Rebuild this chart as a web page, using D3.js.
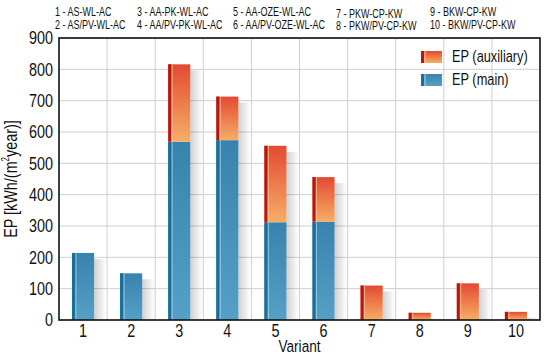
<!DOCTYPE html>
<html>
<head>
<meta charset="utf-8">
<script src="https://cdn.jsdelivr.net/npm/d3@7/dist/d3.min.js"></script>
<style>
	body { margin: 0; background: #fff; }
	svg { font-family: "Liberation Sans", Arial, sans-serif; }
	.grid line { stroke: #cfcfcf; stroke-width: 1; }
</style>
</head>
<body>
<div id="chart"></div>
<script>
// data
const variants = ['1', '2', '3', '4', '5', '6', '7', '8', '9', '10'];
const epMain = [214, 149, 569, 574, 312, 314, 0, 0, 0, 0];
const epAux = [0, 0, 247, 139, 244, 142, 110, 23, 117, 26];
const yTicks = [0, 100, 200, 300, 400, 500, 600, 700, 800, 900];
const legendTop = [
	['1 - AS-WL-AC', '2 - AS/PV-WL-AC'],
	['3 - AA-PK-WL-AC', '4 - AA/PV-PK-WL-AC'],
	['5 - AA-OZE-WL-AC', '6 - AA/PV-OZE-WL-AC'],
	['7 - PKW-CP-KW', '8 - PKW/PV-CP-KW'],
	['9 - BKW-CP-KW', '10 - BKW/PV-CP-KW']
];
const seriesNames = ['EP (auxiliary)', 'EP (main)'];

const W = 550, H = 358;
const m = { left: 59, right: 10, top: 38, bottom: 38 };
const NARROW = 0.8; // no narrow font installed, squeeze glyphs instead

const svg = d3.select('#chart').append('svg').attr('width', W).attr('height', H);
const defs = svg.append('defs');

function vGrad(id, top, bottom) {
	const g = defs.append('linearGradient').attr('id', id).attr('x1', 0).attr('y1', 0).attr('x2', 0).attr('y2', 1);
	g.append('stop').attr('offset', '0%').attr('stop-color', top);
	g.append('stop').attr('offset', '100%').attr('stop-color', bottom);
}
vGrad('gMain', '#3783ad', '#55a0c6');
vGrad('gAux', '#e34a32', '#f6ae66');
const sh = defs.append('linearGradient').attr('id', 'gShadow').attr('x1', 0).attr('y1', 0).attr('x2', 1).attr('y2', 0);
sh.append('stop').attr('offset', '0%').attr('stop-color', '#000').attr('stop-opacity', 0.18);
sh.append('stop').attr('offset', '100%').attr('stop-color', '#000').attr('stop-opacity', 0);

const x = d3.scaleBand().domain(variants).range([m.left, W - m.right]).padding(0);
const y = d3.scaleLinear().domain([0, 900]).range([H - m.bottom, m.top]);

// narrow text placed at (tx, ty)
function ntext(parent, tx, ty, str, size, anchor, sx) {
	return parent.append('text')
		.attr('transform', `translate(${tx},${ty}) scale(${sx || NARROW},1)`)
		.attr('text-anchor', anchor || 'start')
		.attr('font-size', size).attr('fill', '#111').text(str);
}

// grid
const grid = svg.append('g').attr('class', 'grid');
grid.selectAll('.h').data(yTicks).join('line')
	.attr('x1', m.left).attr('x2', W - m.right)
	.attr('y1', d => y(d)).attr('y2', d => y(d));
grid.selectAll('.v').data(variants.slice(1)).join('line')
	.attr('x1', d => x(d)).attr('x2', d => x(d))
	.attr('y1', m.top).attr('y2', H - m.bottom);

const bw = x.bandwidth() * 0.46;
const bx = d => x(d) + (x.bandwidth() - bw) / 2;

const rows = variants.map((v, i) => ({ v, main: epMain[i], aux: epAux[i] }));

// soft shadows right of the bars
svg.append('g').selectAll('rect').data(rows).join('rect')
	.attr('x', d => bx(d.v) + bw)
	.attr('y', d => y(d.main + d.aux) + 6)
	.attr('width', 12)
	.attr('height', d => Math.max(0, y(0) - y(d.main + d.aux) - 6))
	.attr('fill', 'url(#gShadow)');

function drawSeg(sel, lo, hi, fill, dark, light) {
	const g = sel.filter(d => hi(d) > lo(d));
	g.append('rect')
		.attr('x', d => bx(d.v)).attr('width', bw)
		.attr('y', d => y(hi(d))).attr('height', d => y(lo(d)) - y(hi(d)))
		.attr('fill', fill);
	g.append('rect')
		.attr('x', d => bx(d.v)).attr('width', 3)
		.attr('y', d => y(hi(d))).attr('height', d => y(lo(d)) - y(hi(d)))
		.attr('fill', dark);
	g.append('rect')
		.attr('x', d => bx(d.v) + 3.5).attr('width', 1)
		.attr('y', d => y(hi(d))).attr('height', d => y(lo(d)) - y(hi(d)))
		.attr('fill', light).attr('opacity', 0.8);
}

const bars = svg.append('g').selectAll('g').data(rows).join('g');
drawSeg(bars, d => 0, d => d.main, 'url(#gMain)', '#17709b', '#a9d2e6');
drawSeg(bars, d => d.main, d => d.main + d.aux, 'url(#gAux)', '#b8170f', '#f8c09a');

// frame
svg.append('rect')
	.attr('x', m.left).attr('y', m.top)
	.attr('width', W - m.right - m.left).attr('height', H - m.bottom - m.top)
	.attr('fill', 'none').attr('stroke', '#111').attr('stroke-width', 1.6);

// axes
const yAxis = svg.append('g').attr('transform', `translate(${m.left},0)`)
	.call(d3.axisLeft(y).tickValues(yTicks).tickSize(0).tickPadding(6));
const xAxis = svg.append('g').attr('transform', `translate(0,${H - m.bottom})`)
	.call(d3.axisBottom(x).tickSize(0).tickPadding(4));
[yAxis, xAxis].forEach(a => {
	a.select('.domain').remove();
	a.selectAll('text').attr('font-size', 18).attr('fill', '#111')
		.attr('font-family', '"Liberation Sans", Arial, sans-serif');
});
yAxis.selectAll('text').attr('transform', `scale(${NARROW},1)`).attr('x', -6 / NARROW);
xAxis.selectAll('text').attr('transform', `scale(${NARROW},1)`);

ntext(svg, (m.left + W - m.right) / 2, 352, 'Variant', 17, 'middle');

const yl = svg.append('text')
	.attr('transform', `translate(17,${(m.top + H - m.bottom) / 2}) rotate(-90) scale(${NARROW},1)`)
	.attr('text-anchor', 'middle').attr('font-size', 18).attr('fill', '#111');
yl.append('tspan').text('EP [kWh/(m');
yl.append('tspan').attr('font-size', 10).attr('dy', -8).text('2');
yl.append('tspan').attr('dy', 8).text('year)]');

// series legend
const leg = svg.append('g');
const legCols = [
	{ fill: 'url(#gAux)', dark: '#b8170f', light: '#f8c09a' },
	{ fill: 'url(#gMain)', dark: '#17709b', light: '#a9d2e6' }
];
seriesNames.forEach((name, i) => {
	const ly = 51 + i * 23;
	leg.append('rect').attr('x', 421).attr('y', ly).attr('width', 21).attr('height', 12).attr('fill', legCols[i].fill);
	leg.append('rect').attr('x', 421).attr('y', ly).attr('width', 3).attr('height', 12).attr('fill', legCols[i].dark);
	leg.append('rect').attr('x', 424.5).attr('y', ly).attr('width', 1).attr('height', 12).attr('fill', legCols[i].light);
	ntext(leg, 452, ly + 11, name, 16);
});

// variant key above the plot
const colX = [55, 137, 233, 336, 430];
legendTop.forEach((pair, c) => {
	const dy = c === 3 ? 1.5 : 0;
	pair.forEach((t, r) => ntext(svg, colX[c], 16 + r * 12.5 + dy, t, 12.5, 'start', 0.72));
});
</script>
</body>
</html>
